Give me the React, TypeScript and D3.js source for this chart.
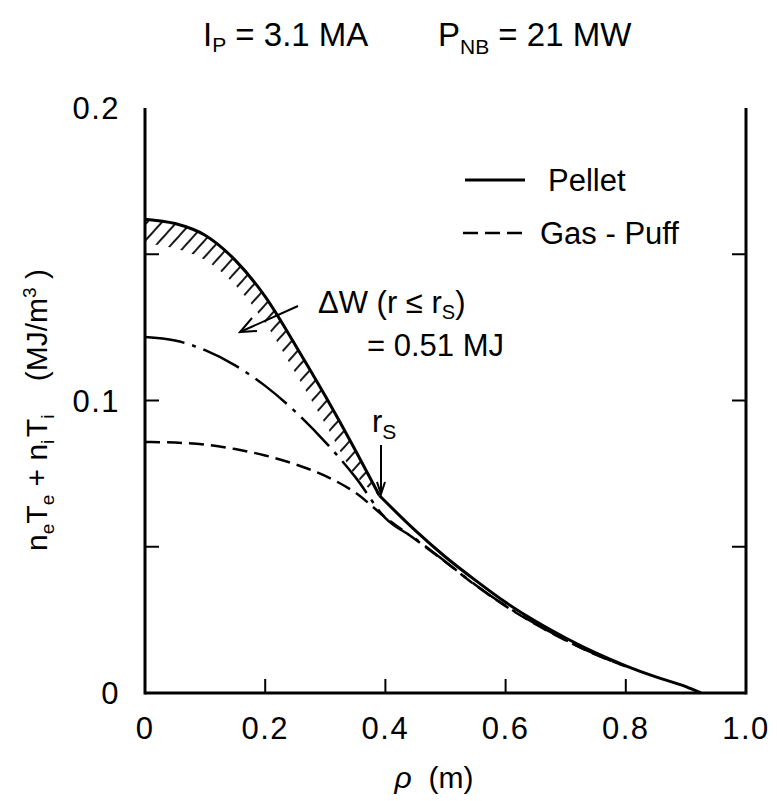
import React from 'react';
import * as d3 from 'd3';

// ---- data ----
const rhoPellet = [0, 0.05, 0.1, 0.15, 0.2, 0.25, 0.3, 0.35, 0.39, 0.45, 0.5, 0.55, 0.6, 0.65, 0.7, 0.75, 0.8, 0.85, 0.9, 0.925];
const pellet = [0.162, 0.1605, 0.1565, 0.148, 0.1355, 0.119, 0.1015, 0.083, 0.0675, 0.0555, 0.0465, 0.0385, 0.031, 0.0245, 0.0188, 0.0137, 0.0093, 0.0055, 0.0022, 0];
const kinkIndex = 8; // r_s

const rhoOther = [0, 0.05, 0.1, 0.15, 0.2, 0.25, 0.3, 0.35, 0.4, 0.45, 0.5, 0.55, 0.6, 0.65, 0.7, 0.75, 0.8];
const gasPuff = [0.0858, 0.0856, 0.0849, 0.0834, 0.0812, 0.0782, 0.0742, 0.0685, 0.06, 0.0525, 0.0448, 0.0368, 0.0297, 0.0235, 0.018, 0.0131, 0.0091];
const dashDot = [0.1217, 0.1205, 0.1172, 0.112, 0.105, 0.0962, 0.0858, 0.0738, 0.0598, 0.0527, 0.0449, 0.0369, 0.0298, 0.0236, 0.0181, 0.0132, 0.0091];

const rhoHatch = [0, 0.05, 0.1, 0.15, 0.2, 0.25, 0.3, 0.35, 0.39];
const hatchUpper = [0.162, 0.1605, 0.1565, 0.148, 0.1355, 0.119, 0.1015, 0.083, 0.0675];
const hatchLower = [0.1538, 0.152, 0.148, 0.1395, 0.1265, 0.1095, 0.092, 0.0745, 0.0675];

const xTicks = [0, 0.2, 0.4, 0.6, 0.8, 1.0];
const xTickLabels = ['0', '0.2', '0.4', '0.6', '0.8', '1.0'];
const yTicks = [0, 0.1, 0.2];
const yTickLabels = ['0', '0.1', '0.2'];
const yMinorTicks = [0.05, 0.1, 0.15];
const xMinorTicks = [0.2, 0.4, 0.6, 0.8];

const FONT = "'Liberation Sans', Arial, sans-serif";

export default function App() {
  const W = 777, H = 801;
  const x = d3.scaleLinear().domain([0, 1]).range([145, 746]);
  const y = d3.scaleLinear().domain([0, 0.2]).range([693, 108]);

  const line = d3.line<[number, number]>()
    .x(d => x(d[0]))
    .y(d => y(d[1]))
    .curve(d3.curveMonotoneX);

  const pelletPts: [number, number][] = rhoPellet.map((r, i) => [r, pellet[i]]);
  const pelletInner = line(pelletPts.slice(0, kinkIndex + 1)) || '';
  const pelletOuter = line(pelletPts.slice(kinkIndex)) || '';
  const gasPath = line(rhoOther.map((r, i) => [r, gasPuff[i]] as [number, number])) || '';
  const ddPath = line(rhoOther.map((r, i) => [r, dashDot[i]] as [number, number])) || '';

  const area = d3.area<number>()
    .x((_, i) => x(rhoHatch[i]))
    .y0((_, i) => y(hatchLower[i]))
    .y1((_, i) => y(hatchUpper[i]))
    .curve(d3.curveMonotoneX);
  const hatchPath = area(rhoHatch) || '';

  const x0 = x(0), x1 = x(1), yb = y(0), yt = y(0.2);
  const tickLen = 14;
  const sw = 3;

  return (
    <svg width={W} height={H} style={{ display: 'block', position: 'absolute', left: 0, top: 0, background: '#fff' }}
      fontFamily={FONT}>
      <defs>
        <pattern id="hatch" patternUnits="userSpaceOnUse" width={11} height={11} patternTransform="rotate(42)">
          <line x1={5} y1={-2} x2={5} y2={13} stroke="#000" strokeWidth={1.8} />
        </pattern>
      </defs>
      <rect x={0} y={0} width={W} height={H} fill="#fff" />

      {/* title */}
      <text x={203} y={46} fontSize={33} fill="#000">
        <tspan>I</tspan><tspan fontSize={21} dy={6}>P</tspan><tspan dy={-6}> = 3.1 MA</tspan>
      </text>
      <text x={438} y={46} fontSize={33} fill="#000">
        <tspan>P</tspan><tspan fontSize={21} dy={8}>NB</tspan><tspan dy={-8}> = 21 MW</tspan>
      </text>

      {/* frame */}
      <g stroke="#000" strokeWidth={sw} fill="none">
        <line x1={x0} y1={yt} x2={x0} y2={yb + 1.5} />
        <line x1={x1} y1={yt} x2={x1} y2={yb + 1.5} />
        <line x1={x0} y1={yb} x2={x1} y2={yb} />
        {yMinorTicks.map(v => (
          <g key={'yt' + v}>
            <line x1={x0} y1={y(v)} x2={x0 + tickLen} y2={y(v)} strokeWidth={2} />
            <line x1={x1} y1={y(v)} x2={x1 - tickLen} y2={y(v)} strokeWidth={2} />
          </g>
        ))}
        {xMinorTicks.map(v => (
          <line key={'xt' + v} x1={x(v)} y1={yb} x2={x(v)} y2={yb - tickLen} strokeWidth={2} />
        ))}
      </g>

      {/* tick labels */}
      {yTicks.map((v, i) => (
        <text key={'yl' + v} x={120} y={y(v)} dy="0.36em" textAnchor="end" fontSize={31} letterSpacing={1.5} fill="#000">{yTickLabels[i]}</text>
      ))}
      {xTicks.map((v, i) => (
        <text key={'xl' + v} x={x(v)} y={739} textAnchor="middle" fontSize={31} letterSpacing={1.5} fill="#000">{xTickLabels[i]}</text>
      ))}

      {/* axis titles */}
      <text x={434} y={788} textAnchor="middle" fontSize={30} fill="#000">
        <tspan fontStyle="italic">ρ</tspan><tspan>{'\u00A0\u00A0(m)'}</tspan>
      </text>
      <text transform={`translate(47,${410}) rotate(-90)`} textAnchor="middle" fontSize={30} fill="#000">
        <tspan>n</tspan><tspan fontSize={19} dy={7}>e</tspan>
        <tspan dy={-7}>T</tspan><tspan fontSize={19} dy={7}>e</tspan>
        <tspan dy={-7}>{' + n'}</tspan><tspan fontSize={19} dy={7}>i</tspan>
        <tspan dy={-7}>{'\u200AT'}</tspan><tspan fontSize={19} dy={7}>i</tspan>
        <tspan dy={-7}>{'\u00A0\u00A0\u00A0\u00A0(MJ/m'}</tspan><tspan fontSize={19} dy={-11}>3</tspan><tspan dy={11}>{'\u00A0)'}</tspan>
      </text>

      {/* hatched region */}
      <path d={hatchPath} fill="url(#hatch)" stroke="none" />

      {/* curves */}
      <path d={ddPath} fill="none" stroke="#000" strokeWidth={2.5} strokeDasharray="40 8 4 8" />
      <path d={gasPath} fill="none" stroke="#000" strokeWidth={2.5} strokeDasharray="15 7" />
      <path d={pelletInner} fill="none" stroke="#000" strokeWidth={3} />
      <path d={pelletOuter} fill="none" stroke="#000" strokeWidth={3} />

      {/* legend */}
      <line x1={465} y1={180} x2={525} y2={180} stroke="#000" strokeWidth={3} />
      <text x={548} y={180} dy="0.36em" fontSize={31} fill="#000">Pellet</text>
      <line x1={463} y1={233} x2={525} y2={233} stroke="#000" strokeWidth={2.5} strokeDasharray="15 7" />
      <text x={540} y={233} dy="0.36em" fontSize={31} fill="#000">Gas - Puff</text>

      {/* annotations */}
      <text x={318} y={313} fontSize={31} fill="#000">
        <tspan>ΔW (r ≤ r</tspan><tspan fontSize={20} dy={6}>S</tspan><tspan dy={-6}>)</tspan>
      </text>
      <text x={367} y={356} fontSize={31} fill="#000">= 0.51 MJ</text>
      <g stroke="#000" strokeWidth={2} fill="none">
        <line x1={298} y1={306} x2={240} y2={332} />
        <polyline points="252,318 240,332 257,331" />
      </g>
      <text x={372} y={432} fontSize={31} fill="#000">
        <tspan>r</tspan><tspan fontSize={21} dy={7}>S</tspan>
      </text>
      <g stroke="#000" strokeWidth={2} fill="none">
        <line x1={381} y1={445} x2={381} y2={494} />
        <polyline points="377,482 381,494 385,482" />
      </g>
    </svg>
  );
}
